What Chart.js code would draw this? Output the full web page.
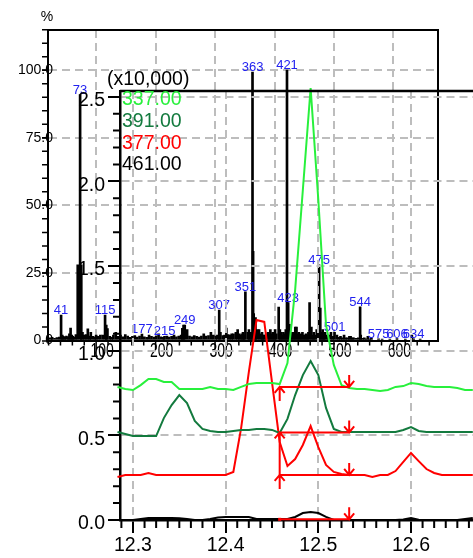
<!DOCTYPE html>
<html>
<head>
<meta charset="utf-8">
<script src="https://cdn.jsdelivr.net/npm/chart.js@4.4.0/dist/chart.umd.min.js"></script>
<style>
  html, body { margin: 0; padding: 0; background: #fff; overflow: hidden; }
  #wrap { position: relative; width: 473px; height: 558px; overflow: hidden; }
  #wrap canvas { position: absolute; left: 0; top: 0; }
</style>
</head>
<body>
<div id="wrap">
  <canvas id="spectrumChart" width="473" height="558"></canvas>
  <canvas id="chromChart" width="560" height="558"></canvas>
</div>
<script>
// ---- Chromatogram: scan times (min) and ion traces (x10,000) ----
const scanTimes = [
  12.2833, 12.2917, 12.3000, 12.3083, 12.3167, 12.3250, 12.3333, 12.3417, 12.3500, 12.3583, 12.3667, 12.3750, 12.3833, 12.3917,
  12.4000, 12.4083, 12.4167, 12.4250, 12.4333, 12.4417, 12.4500, 12.4583, 12.4667, 12.4750, 12.4833, 12.4917,
  12.5000, 12.5083, 12.5167, 12.5250, 12.5333, 12.5417, 12.5500, 12.5583, 12.5667, 12.5750, 12.5833, 12.5917,
  12.6000, 12.6083, 12.6167, 12.6250, 12.6333, 12.6417, 12.6500, 12.6583, 12.6667,
];
const ion337 = [
  0.786, 0.774, 0.768, 0.797, 0.833, 0.833, 0.815, 0.815, 0.774, 0.774, 0.774, 0.774, 0.786, 0.774,
  0.774, 0.768, 0.786, 0.803, 0.809, 0.809, 0.809, 0.803, 0.927, 1.359, 1.949, 2.552,
  1.890, 1.152, 0.916, 0.797, 0.780, 0.774, 0.774, 0.768, 0.762, 0.768, 0.786, 0.791,
  0.809, 0.803, 0.791, 0.786, 0.786, 0.786, 0.780, 0.768, 0.768,
];
const ion391 = [
  0.520, 0.508, 0.496, 0.496, 0.496, 0.496, 0.602, 0.679, 0.738, 0.691, 0.585, 0.538, 0.526, 0.520,
  0.520, 0.526, 0.532, 0.532, 0.538, 0.538, 0.532, 0.514, 0.597, 0.738, 0.856, 0.939,
  0.856, 0.662, 0.538, 0.520, 0.520, 0.520, 0.520, 0.520, 0.520, 0.520, 0.520, 0.532,
  0.549, 0.526, 0.520, 0.520, 0.520, 0.520, 0.520, 0.520, 0.520,
];
const ion377 = [
  0.254, 0.266, 0.266, 0.266, 0.278, 0.266, 0.266, 0.266, 0.266, 0.266, 0.266, 0.266, 0.266, 0.266,
  0.266, 0.284, 0.543, 0.874, 1.181, 1.170, 0.815, 0.461, 0.319, 0.360, 0.443, 0.555,
  0.431, 0.325, 0.284, 0.272, 0.266, 0.266, 0.266, 0.254, 0.266, 0.266, 0.289, 0.343,
  0.396, 0.348, 0.301, 0.278, 0.266, 0.266, 0.266, 0.266, 0.266,
];
const ion461 = [
  0, 0, 0, 0.006, 0.012, 0.012, 0.012, 0.012, 0.010, 0.006, 0, 0, 0.006, 0.015,
  0.018, 0.018, 0.018, 0.018, 0.006, 0.006, 0.006, 0.006, 0.006, 0.018, 0.041, 0.047,
  0.041, 0.018, 0, 0, 0, 0, 0, 0, 0, 0, 0, 0.003,
  0.012, 0.002, 0, 0, 0, 0, 0, 0.006, 0.012,
];
const ionNames = ["337.00", "391.00", "377.00", "461.00"];
const chromTicksX = [12.3, 12.4, 12.5, 12.6, 12.7];
const chromTicksY = [0, 0.5, 1.0, 1.5, 2.0, 2.5];
// integration marks (start / end time, baseline of each trace)
const peakStart = 12.4583;
const peakEnd = 12.5333;
const peakBase = [0.786, 0.517, 0.266, 0.004];

// ---- Mass spectrum: m/z and relative intensity (%) ----
const peakMz = [41, 69, 73, 75, 115, 177, 215, 249, 307, 351, 363, 364, 365, 368, 407, 421, 423, 459, 475, 477, 501, 544, 575, 606, 634];
const peakInt = [9.4, 28, 91, 28, 9.4, 2.4, 1.5, 5.7, 11.3, 18, 99.3, 33, 10, 8.5, 12.4, 100, 14, 14, 28, 12, 3, 12.5, 0.6, 0.7, 0.6];
const labelMz = [41, 73, 115, 177, 215, 249, 307, 351, 363, 421, 423, 475, 501, 544, 575, 606, 634];
const noiseMz = [
  22, 26, 30, 34, 38, 43, 45, 47, 50, 53, 55, 57, 59, 61, 63, 66, 77, 80, 83, 86, 89, 91, 95, 98, 100,
  103, 107, 111, 117, 119, 123, 126, 129, 133, 137, 141, 145, 149, 153, 157, 161, 165, 169, 173, 181,
  185, 189, 193, 197, 201, 205, 209, 213, 219, 223, 227, 231, 235, 239, 243, 245, 247, 253, 257, 261,
  265, 269, 273, 277, 281, 285, 289, 293, 297, 301, 304, 309, 313, 316, 319, 322, 325, 328, 331, 335,
  338, 341, 343, 346, 347, 349, 355, 357, 359, 361, 367, 371, 374, 377, 379, 381, 383, 386, 389, 391,
  393, 395, 397, 399, 401, 403, 409, 411, 413, 415, 417, 419, 425, 427, 429, 431, 433, 435, 437, 439,
  441, 443, 445, 447, 449, 451, 453, 455, 457, 462, 464, 466, 468, 471, 479, 481, 483, 485, 488, 491,
  495, 498, 505, 508, 511, 514, 517, 520, 523, 526, 528, 531, 533, 537, 541, 545, 548, 551, 554, 557,
  560, 563, 581, 594, 620, 631, 645,
];
const noiseInt = [
  1.0, 1.2, 0.8, 1.1, 1.3, 2.0, 1.5, 1.2, 1.6, 1.4, 2.5, 4.6, 2.0, 1.5, 1.2, 2.2, 3.0, 2.0, 2.2, 4.3, 1.6, 3.0, 1.5, 1.2, 2.0,
  1.5, 2.0, 2.0, 5.7, 4.4, 1.5, 1.2, 2.0, 3.0, 1.5, 2.0, 1.4, 2.2, 1.6, 1.2, 1.5, 1.8, 1.3, 1.6, 1.4,
  1.2, 2.0, 1.5, 1.3, 1.6, 2.5, 1.4, 1.2, 1.6, 1.3, 1.5, 2.0, 1.4, 1.6, 2.0, 4.5, 5.7, 4.0, 1.6, 1.4,
  1.8, 1.5, 1.3, 1.6, 2.5, 1.6, 1.8, 3.0, 2.0, 1.6, 2.0, 3.0, 1.8, 2.0, 4.6, 2.2, 2.0, 2.5, 2.5, 3.0,
  4.0, 2.5, 2.0, 2.5, 3.0, 2.0, 3.0, 4.0, 2.5, 3.0, 3.0, 4.0, 4.0, 2.5, 3.0, 2.0, 2.0, 2.5, 3.0, 2.0,
  4.0, 2.5, 3.0, 2.0, 4.0, 2.5, 4.0, 3.0, 2.0, 3.0, 2.5, 4.0, 6.0, 3.0, 2.5, 3.0, 2.0, 5.0, 5.0, 2.5,
  3.0, 2.0, 2.5, 3.0, 2.0, 2.0, 2.5, 2.0, 3.0, 5.0, 2.0, 3.0, 2.0, 4.0, 3.0, 4.0, 2.0, 3.0, 2.0, 2.0,
  3.0, 1.5, 2.0, 1.2, 1.5, 1.0, 2.0, 1.0, 1.0, 1.5, 1.5, 1.0, 1.0, 0.8, 1.0, 2.0, 0.8, 1.0, 0.6, 1.5,
  0.6, 1.0, 0.5, 0.5, 0.5, 2.0, 0.5,
];
const specTicksX = [100, 200, 300, 400, 500, 600];
const specTicksY = [0, 25, 50, 75, 100];

const FONT = "'Liberation Sans', Arial, sans-serif";
const GRID_GRAY = "#bdbdbd";

document.addEventListener("DOMContentLoaded", function () {
  // Extra drawing for the spectrum: frame, minor ticks, labels
  const spectrumExtras = {
    id: "spectrumExtras",
    afterDraw(chart) {
      const { ctx, chartArea: area, scales } = chart;
      const x = scales.x;
      const y = scales.y;
      ctx.save();
      ctx.strokeStyle = "#000";
      ctx.lineWidth = 2;
      ctx.beginPath();
      ctx.moveTo(area.left, area.top);
      ctx.lineTo(area.right, area.top);
      ctx.lineTo(area.right, area.bottom);
      ctx.stroke();

      // minor ticks
      ctx.lineWidth = 1.5;
      ctx.beginPath();
      for (let v = 5; v <= 115; v += 5) {
        const py = y.getPixelForValue(v);
        ctx.moveTo(area.left, py);
        ctx.lineTo(area.left - 6, py);
      }
      for (let v = 20; v <= 660; v += 20) {
        const px = x.getPixelForValue(v);
        ctx.moveTo(px, area.bottom);
        ctx.lineTo(px, area.bottom + (v % 100 === 0 ? 9 : 5));
      }
      ctx.stroke();

      // intensity labels, overlapping the axis line like the original
      ctx.fillStyle = "#000";
      ctx.font = "14px " + FONT;
      ctx.textAlign = "right";
      ctx.textBaseline = "middle";
      specTicksY.forEach((v) => {
        ctx.fillText(v.toFixed(1), area.left + 5, y.getPixelForValue(v));
      });

      // m/z axis labels (tall, narrow text)
      ctx.textAlign = "center";
      specTicksX.forEach((v) => {
        ctx.save();
        ctx.translate(x.getPixelForValue(v) + 6, 352);
        ctx.scale(1, 1.4);
        ctx.fillText(String(v), 0, 0);
        ctx.restore();
      });
      ctx.fillText("%", 47, 17);

      // peak labels
      ctx.fillStyle = "#2222f0";
      ctx.font = "13px " + FONT;
      ctx.textBaseline = "alphabetic";
      labelMz.forEach((m) => {
        const k = peakMz.indexOf(m);
        ctx.fillText(String(m), x.getPixelForValue(m), y.getPixelForValue(peakInt[k]) - 1);
      });
      ctx.restore();
    },
  };

  // Mass spectrum (drawn underneath)
  const spectrumCtx = document.getElementById("spectrumChart").getContext("2d");
  const spectrumChart = new Chart(spectrumCtx, {
    type: "bar",
    data: {
      datasets: [
        {
          data: noiseMz.map((m, i) => ({ x: m, y: noiseInt[i] })),
          backgroundColor: "#000",
          barThickness: 2,
          grouped: false,
        },
        {
          data: peakMz.map((m, i) => ({ x: m, y: peakInt[i] })),
          backgroundColor: "#000",
          barThickness: 2,
          grouped: false,
        },
      ],
    },
    options: {
      responsive: false,
      animation: false,
      layout: { padding: { top: 30, right: 35, left: 0, bottom: 0 } },
      plugins: { legend: { display: false }, tooltip: { enabled: false } },
      scales: {
        x: {
          type: "linear",
          min: 19,
          max: 675,
          offset: false,
          afterFit: (s) => { s.height = 217.5; },
          afterBuildTicks: (s) => { s.ticks = specTicksX.map((v) => ({ value: v })); },
          ticks: { display: false },
          grid: { color: GRID_GRAY, lineWidth: 2, offset: false, drawTicks: false },
          border: { color: "#000", width: 2, dash: [8, 5] },
        },
        y: {
          min: 0,
          max: 114.87,
          afterFit: (s) => { s.width = 48; },
          afterBuildTicks: (s) => { s.ticks = specTicksY.map((v) => ({ value: v })); },
          ticks: { display: false },
          grid: {
            color: (c) => (c.tick && c.tick.value === 0 ? "rgba(0,0,0,0)" : GRID_GRAY),
            lineWidth: 2,
            tickLength: 6,
            tickColor: "#000",
            tickWidth: 1.5,
          },
          border: { color: "#000", width: 2, dash: [8, 5] },
        },
      },
    },
    plugins: [spectrumExtras],
  });

  // Extra drawing for the chromatogram: top edge, minor ticks, legend, integration marks
  const chromExtras = {
    id: "chromExtras",
    afterDraw(chart) {
      const { ctx, chartArea: area, scales } = chart;
      const x = scales.x;
      const y = scales.y;
      ctx.save();
      ctx.strokeStyle = "#000";
      ctx.lineWidth = 2.5;
      ctx.beginPath();
      ctx.moveTo(area.left, area.top);
      ctx.lineTo(area.right, area.top);
      ctx.stroke();

      ctx.lineWidth = 2;
      ctx.beginPath();
      for (let k = 1; k <= 25; k++) {
        if (k % 5 === 0) continue;
        const py = y.getPixelForValue(k / 10);
        ctx.moveTo(area.left, py);
        ctx.lineTo(area.left - 7, py);
      }
      for (let k = -1; k < 36; k++) {
        if (k % 8 === 0) continue;
        const px = x.getPixelForValue(12.3 + k * 0.0125);
        ctx.moveTo(px, area.bottom);
        ctx.lineTo(px, area.bottom + 8);
      }
      ctx.stroke();

      // intensity multiplier and ion legend
      ctx.font = "19.5px " + FONT;
      ctx.textAlign = "left";
      ctx.textBaseline = "middle";
      ctx.fillStyle = "#000";
      ctx.fillText("(x10,000)", 107, 80);
      chart.data.datasets
        .slice()
        .sort((a, b) => a.order - b.order)
        .forEach((ds, i) => {
          ctx.fillStyle = ds.borderColor;
          ctx.fillText(ionNames[i], 122, 100 + i * 21.7);
        });

      // integration baselines with start / end arrows
      ctx.strokeStyle = "#ff0000";
      ctx.fillStyle = "#ff0000";
      ctx.lineWidth = 2;
      const x1 = x.getPixelForValue(peakStart);
      const x2 = x.getPixelForValue(peakEnd);
      const shafts = [14, y.getPixelForValue(peakBase[2]) - y.getPixelForValue(peakBase[1]), 14, 0];
      peakBase.forEach((b, i) => {
        const py = y.getPixelForValue(b);
        ctx.beginPath();
        ctx.moveTo(x1, py);
        ctx.lineTo(x2, py);
        // end arrow (pointing down)
        ctx.moveTo(x2, py - 12);
        ctx.lineTo(x2, py);
        ctx.moveTo(x2 - 5, py - 6);
        ctx.lineTo(x2, py);
        ctx.lineTo(x2 + 5, py - 6);
        // start arrow (pointing up)
        if (shafts[i] > 0) {
          ctx.moveTo(x1, py + shafts[i]);
          ctx.lineTo(x1, py);
          ctx.moveTo(x1 - 5, py + 6);
          ctx.lineTo(x1, py);
          ctx.lineTo(x1 + 5, py + 6);
        }
        ctx.stroke();
        if (shafts[i] === 0) {
          ctx.fillRect(x1 - 1.5, py - 1.5, 3, 3);
        }
      });
      ctx.restore();
    },
  };

  const toPoints = (vals) => scanTimes.map((t, i) => ({ x: t, y: vals[i] }));
  const lineStyle = { pointRadius: 0, borderWidth: 2, tension: 0, fill: false, clip: false };

  // Chromatogram (drawn on top)
  const chromCtx = document.getElementById("chromChart").getContext("2d");
  const chromChart = new Chart(chromCtx, {
    type: "line",
    data: {
      datasets: [
        { label: ionNames[2], data: toPoints(ion377), borderColor: "#ff0000", order: 2, ...lineStyle },
        { label: ionNames[0], data: toPoints(ion337), borderColor: "#28f03c", order: 0, ...lineStyle },
        { label: ionNames[1], data: toPoints(ion391), borderColor: "#137a3e", order: 1, ...lineStyle },
        { label: ionNames[3], data: toPoints(ion461), borderColor: "#000000", order: 3, ...lineStyle },
      ],
    },
    options: {
      responsive: false,
      animation: false,
      layout: { padding: { top: 91, right: 20, left: 0, bottom: 0 } },
      plugins: { legend: { display: false }, tooltip: { enabled: false } },
      scales: {
        x: {
          type: "linear",
          min: 12.286,
          max: 12.7392,
          afterFit: (s) => { s.height = 38; },
          afterBuildTicks: (s) => { s.ticks = chromTicksX.map((v) => ({ value: v })); },
          ticks: {
            color: "#000",
            padding: 1,
            autoSkip: false,
            maxRotation: 0,
            font: { size: 19.5, family: FONT },
            callback: (v) => v.toFixed(1),
          },
          grid: { color: GRID_GRAY, lineWidth: 2, tickLength: 13, tickColor: "#000", tickWidth: 2 },
          border: { color: "#000", width: 2.5, dash: [8, 5] },
        },
        y: {
          min: 0,
          max: 2.534,
          afterFit: (s) => { s.width = 120; },
          afterBuildTicks: (s) => { s.ticks = chromTicksY.map((v) => ({ value: v })); },
          ticks: {
            color: "#000",
            padding: 3,
            labelOffset: 4,
            font: { size: 19.5, family: FONT },
            callback: (v) => v.toFixed(1),
          },
          grid: {
            color: (c) => (c.tick && c.tick.value === 0 ? "rgba(0,0,0,0)" : GRID_GRAY),
            lineWidth: 2,
            tickLength: 12,
            tickColor: "#000",
            tickWidth: 2,
          },
          border: { color: "#000", width: 2.5, dash: [8, 5] },
        },
      },
    },
    plugins: [chromExtras],
  });
});
</script>
</body>
</html>
